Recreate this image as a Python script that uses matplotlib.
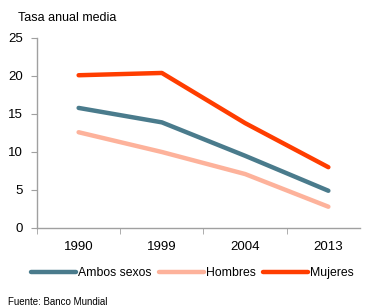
import matplotlib
matplotlib.use('Agg')
import matplotlib.pyplot as plt
import numpy as np

years = ['1990', '1999', '2004', '2013']
ambos = [15.8, 13.9, 9.5, 4.9]
hombres = [12.6, 10.0, 7.1, 2.8]
mujeres = [20.1, 20.4, 13.8, 8.0]

plt.rcParams['font.family'] = ['Liberation Sans', 'DejaVu Sans']

fig = plt.figure(figsize=(3.66, 3.06), dpi=100)
ax = fig.add_axes([37/366, 78/306, 323/366, 190/306])

x = np.arange(len(years))
ax.plot(x, ambos, color='#4a7b8c', lw=3.2, solid_capstyle='round', label='Ambos sexos')
ax.plot(x, hombres, color='#fdb29b', lw=3.2, solid_capstyle='round', label='Hombres')
ax.plot(x, mujeres, color='#ff3d00', lw=3.2, solid_capstyle='round', label='Mujeres')

ax.set_xlim(-0.5, 3.38)
ax.set_ylim(0, 25)
ax.set_yticks([0, 5, 10, 15, 20, 25])
ax.set_xticks(x)
ax.set_xticklabels(years, fontsize=9.5)
ax.set_xticks([-0.5, 0.5, 1.5, 2.5], minor=True)
ax.tick_params(axis='x', which='major', length=0, pad=9)
ax.tick_params(axis='x', which='minor', length=4, color='#a0a0a0', direction='out')
ax.tick_params(axis='y', length=4, color='#a0a0a0', labelsize=9.5, pad=6)
for s in ['top', 'right']:
    ax.spines[s].set_visible(False)
for s in ['left', 'bottom']:
    ax.spines[s].set_color('#a0a0a0')
    ax.spines[s].set_linewidth(1)

fig.text(18/366, 1 - 18/306, 'Tasa anual media', fontsize=9, va='center', ha='left')
fig.legend(loc='center', bbox_to_anchor=(0.525, 1 - 273/306), ncol=3, frameon=False,
           fontsize=8.8, handlelength=3.7, handletextpad=0.15, columnspacing=0.6)
fig.text(8/366, 1 - 302/306, 'Fuente: Banco Mundial', fontsize=7, va='center', ha='left')

fig.savefig('out.png', dpi=100)
